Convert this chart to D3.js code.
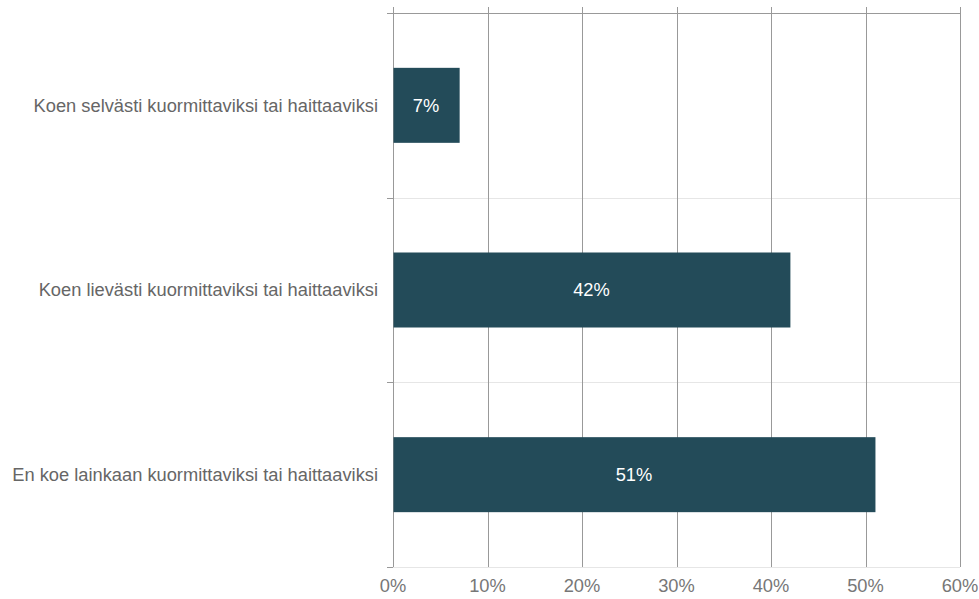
<!DOCTYPE html>
<html>
<head>
<meta charset="utf-8">
<script src="https://cdn.jsdelivr.net/npm/d3@7"></script>
<style>
  body { margin: 0; background: #fff; }
  svg { display: block; font-family: "Liberation Sans", Arial, sans-serif; }
</style>
</head>
<body>
<div id="chart"></div>
<script>
const categories = [
  'Koen selvästi kuormittaviksi tai haittaaviksi',
  'Koen lievästi kuormittaviksi tai haittaaviksi',
  'En koe lainkaan kuormittaviksi tai haittaaviksi'
]
const values = [7, 42, 51]
const ticks = [0, 10, 20, 30, 40, 50, 60]

const width = 979
const height = 599
const margin = { top: 13, right: 19, bottom: 32, left: 393 }
const fontSize = '18.3px'

const svg = d3.select('#chart')
  .append('svg')
  .attr('width', width)
  .attr('height', height)

const x = d3.scaleLinear()
  .domain([0, 60])
  .range([margin.left, width - margin.right])

const y = d3.scaleBand()
  .domain(categories)
  .range([margin.top, height - margin.bottom])
  .paddingInner(0)
  .paddingOuter(0)

// band separators
const bounds = categories.map(c => y(c)).concat([y.range()[1]])
svg.append('g')
  .selectAll('line')
  .data(bounds)
  .join('line')
  .attr('x1', margin.left - 6)
  .attr('x2', x(60))
  .attr('y1', d => Math.round(d) + 0.5)
  .attr('y2', d => Math.round(d) + 0.5)
  .attr('stroke', (d, i) => i === 0 ? '#999' : '#e6e6e6')
  .attr('stroke-width', 1)

// left ticks
svg.append('g')
  .selectAll('line')
  .data(bounds)
  .join('line')
  .attr('x1', margin.left - 6)
  .attr('x2', margin.left)
  .attr('y1', d => Math.round(d) + 0.5)
  .attr('y2', d => Math.round(d) + 0.5)
  .attr('stroke', '#999')

// vertical gridlines
svg.append('g')
  .selectAll('line')
  .data(ticks)
  .join('line')
  .attr('x1', d => Math.round(x(d)) + 0.5)
  .attr('x2', d => Math.round(x(d)) + 0.5)
  .attr('y1', margin.top - 6)
  .attr('y2', height - margin.bottom)
  .attr('stroke', '#999')

// bars
const barH = 75
svg.append('g')
  .selectAll('rect')
  .data(values)
  .join('rect')
  .attr('x', x(0) + 0.5)
  .attr('y', (d, i) => y(categories[i]) + y.bandwidth() / 2 - barH / 2)
  .attr('width', d => x(d) - x(0))
  .attr('height', barH)
  .attr('fill', '#234b59')

// value labels
svg.append('g')
  .selectAll('text')
  .data(values)
  .join('text')
  .attr('x', d => (x(0) + x(d)) / 2)
  .attr('y', (d, i) => y(categories[i]) + y.bandwidth() / 2)
  .attr('dy', '0.35em')
  .attr('text-anchor', 'middle')
  .attr('fill', '#fff')
  .style('font-size', fontSize)
  .text(d => d + '%')

// category labels
svg.append('g')
  .selectAll('text')
  .data(categories)
  .join('text')
  .attr('x', margin.left - 15)
  .attr('y', d => y(d) + y.bandwidth() / 2)
  .attr('dy', '0.35em')
  .attr('text-anchor', 'end')
  .attr('fill', '#666')
  .style('font-size', fontSize)
  .text(d => d)

// x tick labels
svg.append('g')
  .selectAll('text')
  .data(ticks)
  .join('text')
  .attr('x', d => x(d))
  .attr('y', height - margin.bottom + 19)
  .attr('dy', '0.35em')
  .attr('text-anchor', 'middle')
  .attr('fill', '#777')
  .style('font-size', fontSize)
  .text(d => d + '%')
</script>
</body>
</html>
